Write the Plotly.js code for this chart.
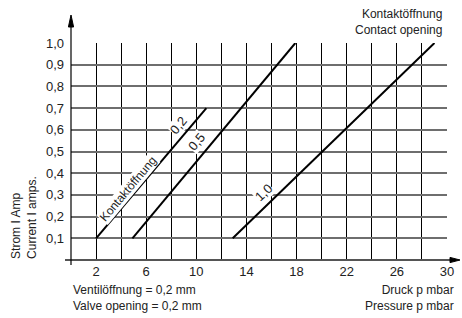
<!DOCTYPE html>
<html><head><meta charset="utf-8">
<script src="https://cdn.plot.ly/plotly-3.0.1.min.js"></script>
<style>html,body{margin:0;padding:0;background:#fff}#c{width:462px;height:318px}</style>
</head><body><div id="c"></div>
<script>
// Data
const seriesNames = ["0,2", "0,5", "1,0"];
const pressure02 = [2, 10.8];
const current02 = [0.1, 0.7];
const pressure05 = [4.9, 17.9];
const current05 = [0.1, 1.0];
const pressure10 = [12.9, 29];
const current10 = [0.1, 1.0];
const xTickVals = [2, 6, 10, 14, 18, 22, 26, 30];
const xTickText = ["2", "6", "10", "14", "18", "22", "26", "30"];
const yTickVals = [0.1, 0.2, 0.3, 0.4, 0.5, 0.6, 0.7, 0.8, 0.9, 1.0];
const yTickText = ["0,1", "0,2", "0,3", "0,4", "0,5", "0,6", "0,7", "0,8", "0,9", "1,0"];

const F = "Liberation Sans, Arial, sans-serif";
const TC = "#222";
const lineStyle = {color: "#000", width: 2};

const traces = [
  {x: pressure02, y: current02, mode: "lines", line: lineStyle, name: seriesNames[0], hoverinfo: "skip"},
  {x: pressure05, y: current05, mode: "lines", line: lineStyle, name: seriesNames[1], hoverinfo: "skip"},
  {x: pressure10, y: current10, mode: "lines", line: lineStyle, name: seriesNames[2], hoverinfo: "skip"}
];

// plot area in pixels: x 71..447 (376px), y 43..260 (217px)
const PW = 376, PH = 217;
const px = v => v / PW, py = v => v / PH;

const labelFont = {family: F, size: 12, color: TC};
const numFont = {family: F, size: 13, color: TC};
const layout = {
  width: 462, height: 318,
  margin: {l: 71, r: 15, t: 43, b: 58},
  paper_bgcolor: "#fff", plot_bgcolor: "#fff",
  showlegend: false,
  xaxis: {
    range: [0, 30], tickvals: xTickVals, ticktext: xTickText,
    showgrid: true, gridcolor: "#000", gridwidth: 1,
    minor: {dtick: 2, tick0: 0, showgrid: true, gridcolor: "#000", gridwidth: 1},
    zeroline: false, showline: false, ticks: "",
    tickfont: {family: F, size: 13, color: TC}, ticklabelstandoff: 2
  },
  yaxis: {
    range: [0, 1.0], tickvals: yTickVals, ticktext: yTickText,
    showgrid: true, gridcolor: "#6e6e6e", gridwidth: 2,
    zeroline: false, showline: false, ticks: "",
    tickfont: {family: F, size: 13, color: TC}, ticklabelstandoff: 6
  },
  shapes: [
    // x axis line + arrowhead
    {type: "line", xref: "paper", yref: "paper", x0: px(-6), x1: px(382), y0: 0, y1: 0, line: {color: "#555", width: 2}},
    {type: "path", xref: "paper", yref: "paper",
     path: `M ${px(389)} 0 L ${px(379)} ${py(2.6)} L ${px(379)} ${py(-2.6)} Z`,
     fillcolor: "#000", line: {color: "#000", width: 1}},
    // y axis line + arrowhead
    {type: "line", xref: "paper", yref: "paper", x0: 0, x1: 0, y0: py(-5), y1: py(236), line: {color: "#000", width: 1.2}},
    {type: "path", xref: "paper", yref: "paper",
     path: `M 0 ${py(245)} L ${px(2.6)} ${py(233)} L ${px(-2.6)} ${py(233)} Z`,
     fillcolor: "#000", line: {color: "#000", width: 1}}
  ],
  annotations: [
    // line labels
    {xref: "x", yref: "y", x: 8.54, y: 0.622, text: seriesNames[0], showarrow: false, textangle: -50,
     font: numFont, bgcolor: "#fff", borderpad: 0},
    {xref: "x", yref: "y", x: 10.06, y: 0.544, text: seriesNames[1], showarrow: false, textangle: -50,
     font: numFont, bgcolor: "#fff", borderpad: 0},
    {xref: "x", yref: "y", x: 15.4, y: 0.309, text: seriesNames[2], showarrow: false, textangle: -44,
     font: numFont, bgcolor: "#fff", borderpad: 0},
    {xref: "x", yref: "y", x: 4.55, y: 0.327, text: "Kontaktöffnung", showarrow: false, textangle: -50,
     font: labelFont, bgcolor: "#fff", borderpad: 0},
    // titles
    {xref: "paper", yref: "paper", x: 0.992, y: 1.097, xanchor: "right", yanchor: "middle", align: "right",
     text: "Kontaktöffnung<br>Contact opening", showarrow: false, font: labelFont},
    {xref: "paper", yref: "paper", x: 0, y: -0.173, xanchor: "left", yanchor: "middle", align: "left",
     text: "Ventilöffnung = 0,2 mm<br>Valve opening = 0,2 mm", showarrow: false, font: labelFont},
    {xref: "paper", yref: "paper", x: 1.024, y: -0.173, xanchor: "right", yanchor: "middle", align: "right",
     text: "Druck p mbar<br>Pressure p mbar", showarrow: false, font: labelFont},
    {xref: "paper", yref: "paper", x: -0.1237, y: 0.196, xanchor: "center", yanchor: "middle", align: "left",
     text: "Strom I Amp<br>Current I amps.", showarrow: false, textangle: -90, font: labelFont}
  ]
};
Plotly.newPlot("c", traces, layout, {staticPlot: true, displayModeBar: false});
</script></body></html>
